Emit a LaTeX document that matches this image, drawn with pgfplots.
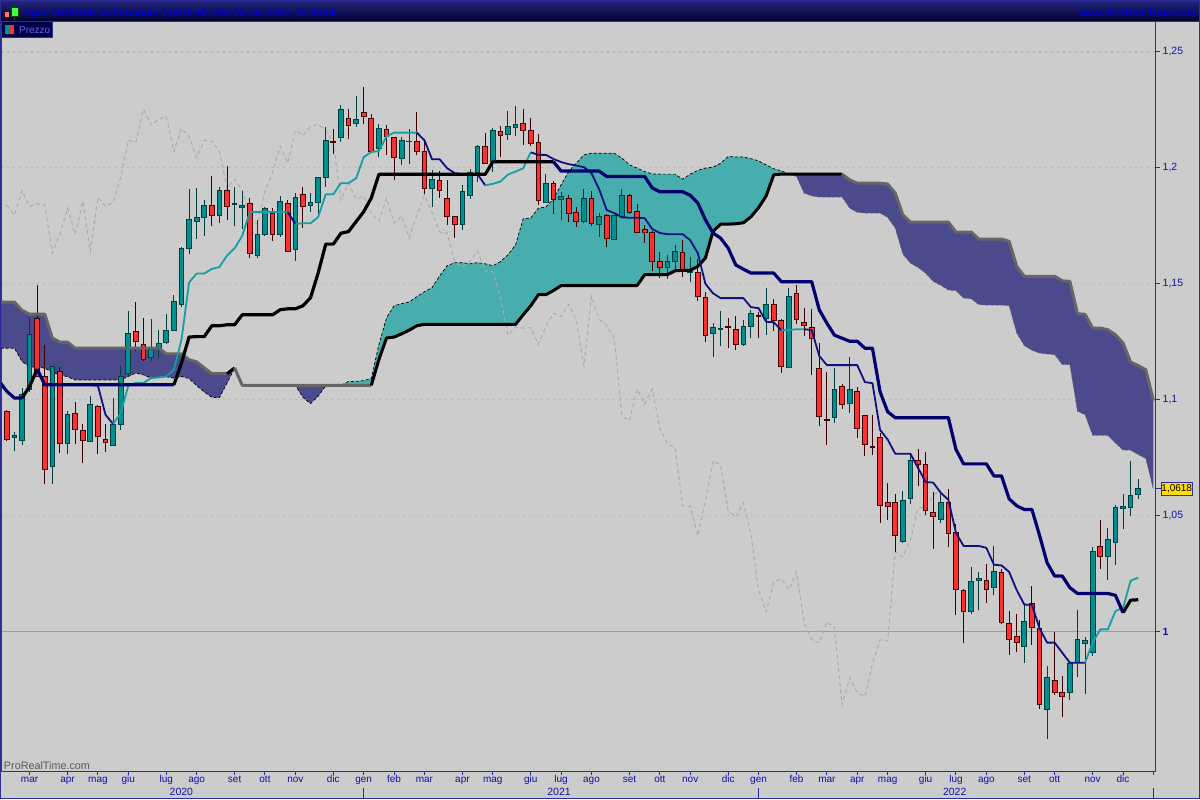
\documentclass[border=0pt]{standalone}
\usepackage{fontspec}
\setmainfont{Liberation Sans}
\usepackage{pgfplots}
\pgfplotsset{compat=1.18}
\usepackage{pgfplotstable}
\usepgfplotslibrary{statistics,fillbetween}
\definecolor{bgc}{HTML}{CCCCCC}
\definecolor{fr}{HTML}{2E2E9A}
\definecolor{tickc}{HTML}{1010A8}
\definecolor{tealc}{HTML}{009090}
\definecolor{tealdk}{HTML}{003C3C}
\definecolor{redc}{HTML}{FF3030}
\definecolor{reddk}{HTML}{3C0000}
\definecolor{tenk}{HTML}{12A0A0}
\definecolor{navyk}{HTML}{00006E}
\definecolor{navyt}{HTML}{101080}
\definecolor{cloudp}{HTML}{4B4A8C}
\definecolor{cloudt}{HTML}{48ADAD}
\definecolor{grayb}{HTML}{666666}
\definecolor{chik}{HTML}{ABABAB}
\definecolor{gridc}{HTML}{B6B6B6}
\definecolor{oneline}{HTML}{9C9C9C}
\definecolor{titlec}{HTML}{0000D8}
\definecolor{legc}{HTML}{6868E0}
\pgfplotstableread[row sep=\\]{i v\\
-0.83 1.1072\\0 1.1036\\1 1.1007\\2 1.1007\\3 1.1057\\4 1.1132\\5 1.1064\\22 1.1064\\23 1.1158\\24 1.1270\\25 1.1272\\26 1.1272\\27 1.1319\\28 1.1319\\29 1.1323\\30 1.1323\\31 1.1366\\35 1.1366\\36 1.1388\\37 1.1392\\38 1.1392\\39 1.1405\\40 1.1440\\41 1.1546\\42 1.1671\\43 1.1671\\44 1.1718\\45 1.1725\\46 1.1768\\47 1.1811\\48 1.1870\\49 1.1972\\63 1.1972\\64 1.2026\\72 1.2026\\73 1.1986\\78 1.1986\\79 1.1963\\84 1.1963\\85 1.1913\\86 1.1897\\89 1.1897\\90 1.1882\\91 1.1848\\92 1.1776\\93 1.1719\\94 1.1697\\95 1.1654\\96 1.1581\\97 1.1563\\98 1.1546\\101 1.1546\\102 1.1509\\106 1.1509\\107 1.1387\\108 1.1330\\109 1.1278\\110 1.1265\\111 1.1252\\112 1.1252\\113 1.1222\\114 1.1222\\115 1.1034\\116 1.0948\\117 1.0922\\124 1.0922\\125 1.0785\\126 1.0723\\129 1.0723\\130 1.0671\\131 1.0671\\132 1.0572\\133 1.0542\\134 1.0526\\135 1.0526\\136 1.0415\\137 1.0296\\138 1.0239\\139 1.0239\\140 1.0189\\141 1.0164\\145 1.0164\\146 1.0156\\147 1.0081\\148 1.0135\\149 1.0137\\
}\tabK
\pgfplotstableread[row sep=\\]{i v\\
11 1.1064\\12 1.1060\\13 1.0935\\14 1.0895\\15 1.0942\\16 1.1060\\17 1.1072\\18 1.1072\\19 1.1093\\20 1.1096\\21 1.1100\\22 1.1129\\23 1.1258\\24 1.1505\\25 1.1544\\26 1.1544\\27 1.1564\\28 1.1572\\29 1.1622\\30 1.1653\\31 1.1707\\32 1.1809\\37 1.1809\\38 1.1758\\39 1.1761\\40 1.1761\\41 1.1788\\42 1.1886\\43 1.1886\\44 1.1934\\45 1.1934\\46 1.1955\\47 1.2046\\48 1.2068\\49 1.2073\\50 1.2135\\51 1.2152\\54 1.2152\\55 1.2119\\56 1.2037\\57 1.2037\\58 1.1998\\59 1.1977\\60 1.1972\\62 1.1972\\63 1.1925\\64 1.1931\\65 1.1941\\66 1.1971\\67 1.1984\\68 1.1998\\69 1.2067\\70 1.2056\\71 1.2056\\72 1.2038\\73 1.2025\\74 1.2016\\75 1.2010\\76 1.2003\\77 1.1977\\78 1.1908\\79 1.1818\\80 1.1805\\81 1.1786\\82 1.1785\\83 1.1785\\84 1.1783\\85 1.1736\\86 1.1719\\87 1.1714\\89 1.1714\\90 1.1688\\91 1.1632\\92 1.1500\\93 1.1459\\94 1.1438\\97 1.1438\\98 1.1399\\99 1.1395\\100 1.1336\\101 1.1334\\102 1.1300\\103 1.1300\\104 1.1304\\105 1.1304\\106 1.1300\\107 1.1188\\108 1.1149\\112 1.1149\\113 1.1076\\114 1.1071\\115 1.0870\\116 1.0828\\117 1.0767\\119 1.0767\\120 1.0706\\121 1.0645\\122 1.0642\\123 1.0598\\124 1.0568\\125 1.0425\\126 1.0369\\128 1.0369\\129 1.0361\\130 1.0288\\131 1.0285\\132 1.0257\\133 1.0178\\134 1.0116\\135 1.0115\\136 1.0014\\137 0.9952\\138 0.9952\\139 0.9908\\140 0.9865\\142 0.9865\\143 0.9952\\144 1.0009\\145 1.0009\\146 1.0088\\147 1.0102\\148 1.0219\\149 1.0232\\
}\tabT
\pgfplotstableread[row sep=\\]{i v\\
-0.83 1.1421\\1 1.1421\\2 1.1385\\3 1.1369\\5 1.1369\\6 1.1266\\7 1.1248\\8 1.1248\\9 1.1222\\20 1.1222\\21 1.1198\\23 1.1198\\24 1.1172\\25 1.1163\\26 1.1137\\27 1.1112\\29 1.1112\\30 1.1137\\31 1.1062\\38 1.1062\\42 1.1062\\43 1.1062\\48 1.1062\\49 1.1173\\50 1.1266\\51 1.1270\\52 1.1284\\53 1.1300\\54 1.1319\\55 1.1325\\67 1.1325\\68 1.1366\\69 1.1405\\70 1.1453\\71 1.1453\\72 1.1471\\73 1.1492\\83 1.1492\\84 1.1539\\87 1.1539\\88 1.1556\\89 1.1558\\90 1.1558\\91 1.1575\\92 1.1611\\93 1.1726\\94 1.1757\\95 1.1757\\96 1.1759\\97 1.1763\\98 1.1789\\99 1.1828\\100 1.1879\\101 1.1970\\102 1.1973\\103 1.1973\\110 1.1973\\111 1.1948\\112 1.1934\\115 1.1934\\116 1.1930\\117 1.1891\\118 1.1797\\119 1.1766\\124 1.1766\\125 1.1723\\127 1.1723\\128 1.1693\\131 1.1693\\132 1.1683\\133 1.1575\\134 1.1532\\138 1.1532\\139 1.1513\\140 1.1510\\141 1.1371\\142 1.1368\\143 1.1309\\144 1.1309\\145 1.1302\\146 1.1280\\147 1.1244\\148 1.1162\\149 1.1147\\150 1.1129\\151 1.0996\\
}\tabB
\pgfplotstableread[row sep=\\]{i v\\
-0.83 1.1222\\1 1.1222\\2 1.1165\\3 1.1141\\4 1.1141\\5 1.1136\\6 1.1118\\7 1.1107\\8 1.1099\\9 1.1085\\15 1.1085\\16 1.1100\\17 1.1115\\18 1.1107\\19 1.1093\\20 1.1096\\21 1.1099\\22 1.1093\\23 1.1100\\24 1.1091\\25 1.1061\\26 1.1033\\27 1.1010\\28 1.1009\\29 1.1072\\30 1.1137\\31 1.1062\\38 1.1062\\39 1.1010\\40 1.0983\\41 1.1015\\42 1.1060\\43 1.1062\\44 1.1062\\45 1.1078\\46 1.1079\\47 1.1082\\48 1.1091\\49 1.1237\\50 1.1353\\51 1.1405\\52 1.1414\\53 1.1422\\54 1.1444\\55 1.1466\\56 1.1483\\57 1.1534\\58 1.1578\\59 1.1591\\60 1.1591\\61 1.1586\\62 1.1591\\63 1.1586\\64 1.1578\\65 1.1595\\66 1.1625\\67 1.1668\\68 1.1780\\69 1.1784\\70 1.1826\\71 1.1831\\72 1.1867\\73 1.1927\\74 1.1984\\75 1.2020\\76 1.2056\\77 1.2063\\80 1.2063\\81 1.2042\\82 1.2013\\83 1.1999\\84 1.1984\\85 1.1974\\86 1.1973\\88 1.1973\\89 1.1951\\90 1.1973\\91 1.1989\\92 1.1999\\93 1.2003\\94 1.2020\\95 1.2049\\96 1.2047\\97 1.2047\\98 1.2039\\99 1.2030\\100 1.2013\\101 1.1996\\102 1.1987\\103 1.1973\\104 1.1963\\105 1.1891\\106 1.1879\\107 1.1874\\110 1.1874\\111 1.1826\\112 1.1808\\113 1.1805\\115 1.1805\\116 1.1786\\117 1.1740\\118 1.1628\\119 1.1589\\120 1.1570\\121 1.1546\\122 1.1510\\123 1.1493\\124 1.1473\\125 1.1470\\126 1.1438\\127 1.1435\\128 1.1410\\129 1.1408\\131 1.1408\\132 1.1405\\133 1.1287\\134 1.1233\\135 1.1213\\136 1.1201\\137 1.1197\\138 1.1194\\139 1.1151\\140 1.1151\\141 1.0950\\142 1.0935\\143 1.0846\\145 1.0846\\146 1.0813\\147 1.0782\\148 1.0782\\149 1.0763\\150 1.0746\\151 1.0612\\
}\tabA
\pgfplotstableread[row sep=\\]{i v\\
0 1.1839\\1 1.1796\\2 1.1903\\3 1.1834\\4 1.1845\\5 1.1839\\6 1.1632\\7 1.1714\\8 1.1826\\9 1.1712\\10 1.1856\\11 1.1640\\12 1.1873\\13 1.1834\\14 1.1852\\15 1.1959\\16 1.2119\\17 1.2110\\18 1.2253\\19 1.2184\\20 1.2209\\21 1.2222\\22 1.2070\\23 1.2171\\24 1.2135\\25 1.2044\\26 1.2119\\27 1.2115\\28 1.2072\\29 1.1912\\30 1.1951\\31 1.1903\\32 1.1791\\33 1.1757\\34 1.1899\\35 1.1981\\36 1.2093\\37 1.2020\\38 1.2162\\39 1.2140\\40 1.2179\\41 1.2188\\42 1.2162\\43 1.2106\\44 1.1861\\45 1.1934\\46 1.1865\\47 1.1878\\48 1.1805\\49 1.1770\\50 1.1869\\51 1.1762\\52 1.1792\\53 1.1697\\54 1.1796\\55 1.1882\\56 1.1808\\57 1.1723\\58 1.1719\\59 1.1594\\60 1.1572\\61 1.1598\\62 1.1641\\63 1.1556\\64 1.1553\\65 1.1443\\66 1.1277\\67 1.1313\\68 1.1308\\69 1.1311\\70 1.1238\\71 1.1317\\72 1.1373\\73 1.1359\\74 1.1412\\75 1.1343\\76 1.1145\\77 1.1446\\78 1.1347\\79 1.1321\\80 1.1265\\81 1.0929\\82 1.0910\\83 1.1046\\84 1.0981\\85 1.1046\\86 1.0877\\87 1.0808\\88 1.0794\\89 1.0542\\90 1.0540\\91 1.0413\\92 1.0563\\93 1.0736\\94 1.0719\\95 1.0520\\96 1.0494\\97 1.0555\\98 1.0421\\99 1.0180\\100 1.0085\\101 1.0214\\102 1.0227\\103 1.0180\\104 1.0257\\105 1.0038\\106 0.9964\\107 0.9952\\108 1.0042\\109 1.0016\\110 0.9684\\111 0.9801\\112 0.9736\\113 0.9719\\114 0.9861\\115 0.9964\\116 0.9960\\117 1.0344\\118 1.0322\\119 1.0396\\120 1.0533\\121 1.0538\\122 1.0585\\123 1.0615\\
}\tabC
% candle: index, low, body bottom, body top, high
\newcommand\T[5]{\addplot[draw=tealdk,fill=tealc,line width=1pt,boxplot prepared={draw position=#1,lower whisker=#2,lower quartile=#3,median=#3,upper quartile=#4,upper whisker=#5}] coordinates {};}
\newcommand\R[5]{\addplot[draw=reddk,fill=redc,line width=1pt,boxplot prepared={draw position=#1,lower whisker=#2,lower quartile=#3,median=#3,upper quartile=#4,upper whisker=#5}] coordinates {};}
\begin{document}
\begin{tikzpicture}[x=1pt,y=1pt]
\path (0,0) rectangle (1200,800);
\begin{axis}[
 at={(1pt,28pt)},anchor=south west,scale only axis,width=1155pt,height=750pt,
 xmin=-0.70,xmax=151.28,ymin=0.93966,ymax=1.26293,
 axis line style={draw=fr,line width=1pt},
 tick align=outside,xtick pos=bottom,ytick pos=right,
 major tick length=4pt,
 tick style={draw=fr,line width=1pt},
 xtick={3,8,12,16,21,25,30,34,38,43,47,51,55,60,64,69,73,77,82,86,90,95,99,104,108,112,116,121,125,129,134,138,143,147,151},
 xticklabels={mar,apr,mag,giu,lug,ago,set,ott,nov,dic,gen,feb,mar,apr,mag,giu,lug,ago,set,ott,nov,dic,gen,feb,mar,apr,mag,giu,lug,ago,set,ott,nov,dic,{}},
 xticklabel style={font=\fontsize{10}{12}\selectfont,text=tickc,inner sep=0pt,anchor=base,yshift=-7.5pt},
 ytick={1.05,1.1,1.15,1.2,1.25},
 yticklabels={{1,05},{1,1},{1,15},{1,2},{1,25}},
 yticklabel style={font=\fontsize{10.5}{12}\selectfont,text=tickc,inner sep=0pt,xshift=3pt},
 extra y ticks={1},extra y tick labels={\textbf{1}},
 extra y tick style={grid=major,major grid style={solid,draw=oneline,line width=1pt}},
 ymajorgrids,
 major grid style={draw=gridc,line width=1.2pt,dash pattern=on 2pt off 4pt},
 boxplot/whisker extend=0,boxplot/box extend=0.62,boxplot/draw direction=y,
 boxplot/every median/.style={draw=none},
]
% clouds
\addplot[name path=u1,draw=none,restrict x to domain=-1:30] table[x=i,y=v]{\tabB};
\addplot[name path=l1,draw=none,restrict x to domain=-1:30] table[x=i,y=v]{\tabA};
\addplot[fill=cloudp,draw=none] fill between[of=u1 and l1];
\addplot[name path=u2,draw=none,restrict x to domain=38:43] table[x=i,y=v]{\tabB};
\addplot[name path=l2,draw=none,restrict x to domain=38:43] table[x=i,y=v]{\tabA};
\addplot[fill=cloudp,draw=none] fill between[of=u2 and l2];
\addplot[name path=u3,draw=none,restrict x to domain=43:103] table[x=i,y=v]{\tabA};
\addplot[name path=l3,draw=none,restrict x to domain=43:103] table[x=i,y=v]{\tabB};
\addplot[fill=cloudt,draw=none] fill between[of=u3 and l3];
\addplot[name path=u4,draw=none,restrict x to domain=103:151] table[x=i,y=v]{\tabB};
\addplot[name path=l4,draw=none,restrict x to domain=103:151] table[x=i,y=v]{\tabA};
\addplot[fill=cloudp,draw=none] fill between[of=u4 and l4];
% span A edge
\addplot[black,line width=0.7pt,dash pattern=on 3pt off 2pt,restrict x to domain=-1:103] table[x=i,y=v]{\tabA};
\addplot[black!50!bgc,line width=0.5pt,dash pattern=on 3pt off 2pt,restrict x to domain=103:151] table[x=i,y=v]{\tabA};
% lagging line
\addplot[chik,line width=1pt,dash pattern=on 4pt off 3pt] table[x=i,y=v]{\tabC};
% candles
\R{0}{1.0823}{1.0829}{1.0947}{1.0957}
\T{1}{1.0777}{1.0837}{1.0847}{1.0860}
\T{2}{1.0803}{1.0824}{1.1023}{1.1050}
\T{3}{1.1031}{1.1043}{1.1283}{1.1355}
\R{4}{1.1097}{1.1100}{1.1352}{1.1495}
\R{5}{1.0635}{1.0697}{1.1100}{1.1237}
\T{6}{1.0635}{1.0710}{1.1141}{1.1143}
\R{7}{1.0768}{1.0809}{1.1123}{1.1141}
\T{8}{1.0764}{1.0813}{1.0934}{1.0952}
\R{9}{1.0809}{1.0873}{1.0942}{1.0991}
\R{10}{1.0725}{1.0822}{1.0869}{1.0895}
\T{11}{1.0818}{1.0820}{1.0981}{1.1016}
\R{12}{1.0764}{1.0839}{1.0972}{1.0977}
\R{13}{1.0773}{1.0816}{1.0830}{1.0896}
\T{14}{1.0799}{1.0803}{1.0895}{1.1008}
\T{15}{1.0868}{1.0891}{1.1100}{1.1145}
\T{16}{1.1096}{1.1115}{1.1287}{1.1382}
\R{17}{1.1208}{1.1253}{1.1296}{1.1422}
\R{18}{1.1165}{1.1175}{1.1240}{1.1352}
\T{19}{1.1165}{1.1184}{1.1218}{1.1347}
\T{20}{1.1181}{1.1218}{1.1244}{1.1300}
\T{21}{1.1240}{1.1248}{1.1300}{1.1369}
\T{22}{1.1298}{1.1300}{1.1425}{1.1452}
\T{23}{1.1399}{1.1412}{1.1653}{1.1658}
\T{24}{1.1630}{1.1653}{1.1778}{1.1909}
\T{25}{1.1692}{1.1768}{1.1787}{1.1913}
\T{26}{1.1708}{1.1787}{1.1839}{1.1862}
\R{27}{1.1751}{1.1796}{1.1839}{1.1965}
\T{28}{1.1760}{1.1796}{1.1903}{1.1916}
\R{29}{1.1777}{1.1834}{1.1903}{1.2008}
\T{30}{1.1751}{1.1842}{1.1845}{1.1918}
\T{31}{1.1735}{1.1829}{1.1839}{1.1901}
\R{32}{1.1609}{1.1632}{1.1847}{1.1870}
\T{33}{1.1613}{1.1622}{1.1714}{1.1773}
\T{34}{1.1704}{1.1714}{1.1826}{1.1830}
\R{35}{1.1686}{1.1712}{1.1804}{1.1826}
\T{36}{1.1701}{1.1714}{1.1856}{1.1878}
\R{37}{1.1636}{1.1640}{1.1847}{1.1860}
\T{38}{1.1600}{1.1649}{1.1873}{1.1890}
\R{39}{1.1742}{1.1834}{1.1886}{1.1918}
\T{40}{1.1810}{1.1839}{1.1852}{1.1890}
\T{41}{1.1797}{1.1852}{1.1959}{1.1962}
\T{42}{1.1918}{1.1959}{1.2119}{1.2175}
\R{43}{1.2059}{1.2110}{1.2115}{1.2166}
\T{44}{1.2113}{1.2132}{1.2253}{1.2270}
\R{45}{1.2125}{1.2184}{1.2214}{1.2253}
\T{46}{1.2175}{1.2192}{1.2209}{1.2310}
\R{47}{1.2189}{1.2222}{1.2240}{1.2347}
\R{48}{1.2068}{1.2070}{1.2214}{1.2232}
\T{49}{1.2047}{1.2084}{1.2171}{1.2189}
\R{50}{1.2057}{1.2135}{1.2166}{1.2184}
\R{51}{1.1949}{1.2044}{1.2132}{1.2135}
\T{52}{1.2013}{1.2040}{1.2119}{1.2132}
\T{53}{1.2017}{1.2113}{1.2115}{1.2166}
\R{54}{1.2057}{1.2072}{1.2115}{1.2241}
\R{55}{1.1889}{1.1912}{1.2072}{1.2123}
\T{56}{1.1833}{1.1912}{1.1951}{1.1991}
\R{57}{1.1872}{1.1903}{1.1947}{1.1985}
\R{58}{1.1754}{1.1791}{1.1869}{1.1948}
\R{59}{1.1699}{1.1757}{1.1791}{1.1791}
\T{60}{1.1734}{1.1757}{1.1899}{1.1925}
\T{61}{1.1866}{1.1882}{1.1981}{1.1994}
\T{62}{1.1938}{1.1981}{1.2093}{1.2097}
\R{63}{1.2015}{1.2020}{1.2093}{1.2151}
\T{64}{1.1984}{1.2027}{1.2162}{1.2171}
\R{65}{1.2047}{1.2140}{1.2158}{1.2179}
\T{66}{1.2122}{1.2145}{1.2179}{1.2244}
\T{67}{1.2136}{1.2175}{1.2188}{1.2265}
\R{68}{1.2099}{1.2162}{1.2192}{1.2254}
\R{69}{1.2093}{1.2106}{1.2162}{1.2215}
\R{70}{1.1841}{1.1861}{1.2111}{1.2147}
\T{71}{1.1848}{1.1852}{1.1934}{1.1974}
\R{72}{1.1802}{1.1865}{1.1934}{1.1943}
\T{73}{1.1776}{1.1865}{1.1878}{1.1895}
\R{74}{1.1767}{1.1805}{1.1869}{1.1882}
\R{75}{1.1746}{1.1770}{1.1809}{1.1831}
\T{76}{1.1760}{1.1770}{1.1869}{1.1908}
\R{77}{1.1750}{1.1762}{1.1869}{1.1900}
\T{78}{1.1703}{1.1757}{1.1792}{1.1805}
\R{79}{1.1660}{1.1697}{1.1796}{1.1800}
\T{80}{1.1693}{1.1693}{1.1796}{1.1796}
\T{81}{1.1783}{1.1792}{1.1882}{1.1908}
\R{82}{1.1799}{1.1808}{1.1882}{1.1887}
\R{83}{1.1721}{1.1723}{1.1813}{1.1844}
\R{84}{1.1677}{1.1719}{1.1732}{1.1753}
\R{85}{1.1556}{1.1594}{1.1723}{1.1727}
\R{86}{1.1526}{1.1572}{1.1594}{1.1638}
\T{87}{1.1522}{1.1572}{1.1598}{1.1624}
\T{88}{1.1565}{1.1594}{1.1641}{1.1667}
\R{89}{1.1530}{1.1556}{1.1637}{1.1688}
\T{90}{1.1509}{1.1550}{1.1553}{1.1617}
\R{91}{1.1427}{1.1443}{1.1550}{1.1607}
\R{92}{1.1247}{1.1277}{1.1442}{1.1464}
\T{93}{1.1182}{1.1287}{1.1313}{1.1330}
\T{94}{1.1232}{1.1304}{1.1308}{1.1383}
\R{95}{1.1224}{1.1311}{1.1317}{1.1352}
\R{96}{1.1215}{1.1238}{1.1304}{1.1360}
\T{97}{1.1232}{1.1238}{1.1317}{1.1343}
\T{98}{1.1267}{1.1317}{1.1373}{1.1386}
\R{99}{1.1267}{1.1359}{1.1364}{1.1377}
\T{100}{1.1280}{1.1352}{1.1412}{1.1481}
\R{101}{1.1297}{1.1343}{1.1412}{1.1433}
\R{102}{1.1116}{1.1145}{1.1343}{1.1347}
\T{103}{1.1135}{1.1140}{1.1446}{1.1481}
\R{104}{1.1327}{1.1347}{1.1459}{1.1494}
\R{105}{1.1275}{1.1321}{1.1334}{1.1395}
\R{106}{1.1106}{1.1265}{1.1313}{1.1390}
\R{107}{1.0885}{1.0929}{1.1136}{1.1244}
\R{108}{1.0803}{1.0910}{1.0916}{1.1119}
\T{109}{1.0898}{1.0921}{1.1046}{1.1136}
\R{110}{1.0958}{1.0981}{1.1058}{1.1067}
\T{111}{1.0941}{1.0985}{1.1046}{1.1183}
\R{112}{1.0833}{1.0877}{1.1037}{1.1054}
\R{113}{1.0755}{1.0808}{1.0933}{1.0933}
\R{114}{1.0761}{1.0794}{1.0800}{1.0933}
\R{115}{1.0469}{1.0542}{1.0835}{1.0857}
\R{116}{1.0480}{1.0540}{1.0555}{1.0641}
\R{117}{1.0344}{1.0413}{1.0555}{1.0594}
\T{118}{1.0382}{1.0390}{1.0563}{1.0607}
\T{119}{1.0549}{1.0572}{1.0736}{1.0770}
\R{120}{1.0627}{1.0719}{1.0736}{1.0789}
\R{121}{1.0502}{1.0520}{1.0719}{1.0775}
\R{122}{1.0355}{1.0494}{1.0512}{1.0602}
\T{123}{1.0469}{1.0482}{1.0555}{1.0607}
\R{124}{1.0364}{1.0421}{1.0555}{1.0615}
\R{125}{1.0071}{1.0180}{1.0425}{1.0464}
\R{126}{0.9951}{1.0085}{1.0175}{1.0184}
\T{127}{1.0076}{1.0085}{1.0214}{1.0279}
\T{128}{1.0092}{1.0219}{1.0227}{1.0257}
\R{129}{1.0122}{1.0180}{1.0219}{1.0292}
\T{130}{1.0157}{1.0188}{1.0257}{1.0369}
\R{131}{1.0033}{1.0038}{1.0253}{1.0270}
\R{132}{0.9900}{0.9964}{1.0033}{1.0089}
\R{133}{0.9913}{0.9952}{0.9977}{1.0077}
\T{134}{0.9865}{0.9934}{1.0042}{1.0115}
\R{135}{0.9943}{1.0016}{1.0120}{1.0197}
\R{136}{0.9667}{0.9684}{1.0012}{1.0051}
\T{137}{0.9538}{0.9663}{0.9801}{0.9852}
\R{138}{0.9727}{0.9736}{0.9788}{0.9999}
\R{139}{0.9633}{0.9719}{0.9736}{0.9809}
\T{140}{0.9706}{0.9736}{0.9861}{0.9865}
\T{141}{0.9805}{0.9865}{0.9964}{1.0094}
\T{142}{0.9732}{0.9947}{0.9960}{0.9977}
\T{143}{0.9896}{0.9908}{1.0344}{1.0365}
\R{144}{1.0271}{1.0322}{1.0365}{1.0482}
\T{145}{1.0223}{1.0322}{1.0396}{1.0447}
\T{146}{1.0288}{1.0383}{1.0533}{1.0546}
\T{147}{1.0443}{1.0529}{1.0538}{1.0594}
\T{148}{1.0499}{1.0533}{1.0585}{1.0737}
\T{149}{1.0571}{1.0589}{1.0615}{1.0658}
% span B edge
\addplot[grayb,line width=3pt,line join=round,restrict x to domain=-1:29] table[x=i,y=v]{\tabB};
\addplot[black,line width=3pt,line join=round,restrict x to domain=29:30] table[x=i,y=v]{\tabB};
\addplot[grayb,line width=3pt,line join=round,restrict x to domain=30:48] table[x=i,y=v]{\tabB};
\addplot[black,line width=3pt,line join=round,restrict x to domain=48:110] table[x=i,y=v]{\tabB};
\addplot[grayb,line width=3pt,line join=round,restrict x to domain=110:151] table[x=i,y=v]{\tabB};
% conversion line
\addplot[navyt,line width=1.8pt,line join=round,restrict x to domain=11:14] table[x=i,y=v]{\tabT};
\addplot[tenk,line width=1.8pt,line join=round,restrict x to domain=14:37] table[x=i,y=v]{\tabT};
\addplot[navyt,line width=1.8pt,line join=round,restrict x to domain=37:38] table[x=i,y=v]{\tabT};
\addplot[tenk,line width=1.8pt,line join=round,restrict x to domain=38:54] table[x=i,y=v]{\tabT};
\addplot[navyt,line width=1.8pt,line join=round,restrict x to domain=54:63] table[x=i,y=v]{\tabT};
\addplot[tenk,line width=1.8pt,line join=round,restrict x to domain=63:69] table[x=i,y=v]{\tabT};
\addplot[navyt,line width=1.8pt,line join=round,restrict x to domain=69:102] table[x=i,y=v]{\tabT};
\addplot[tenk,line width=1.8pt,line join=round,restrict x to domain=102:105] table[x=i,y=v]{\tabT};
\addplot[navyt,line width=1.8pt,line join=round,restrict x to domain=105:142] table[x=i,y=v]{\tabT};
\addplot[tenk,line width=1.8pt,line join=round,restrict x to domain=142:149] table[x=i,y=v]{\tabT};
% base line
\addplot[navyk,line width=3.2pt,line join=round,restrict x to domain=-1:2] table[x=i,y=v]{\tabK};
\addplot[black,line width=3.2pt,line join=round,restrict x to domain=2:4] table[x=i,y=v]{\tabK};
\addplot[navyk,line width=3.2pt,line join=round,restrict x to domain=4:22] table[x=i,y=v]{\tabK};
\addplot[black,line width=3.2pt,line join=round,restrict x to domain=22:72] table[x=i,y=v]{\tabK};
\addplot[navyk,line width=3.2pt,line join=round,restrict x to domain=72:147] table[x=i,y=v]{\tabK};
\addplot[black,line width=3.2pt,line join=round,restrict x to domain=147:149] table[x=i,y=v]{\tabK};
\end{axis}
% page background, underneath every layer of the axis
\begin{pgfonlayer}{axis background}
\fill[bgc] (0,0) rectangle (1200,800);
\end{pgfonlayer}
% header
\shade[top color=blue!40!black!85,bottom color=blue!18!black] (0,778) rectangle (1200,800);
\draw[fr,line width=1pt] (0,778) -- (1200,778);
\draw[fr,line width=1pt] (0.5,0.5) rectangle (1199.5,799.5);
\node[anchor=base west,inner sep=0pt,text=titlec,font=\fontsize{10.4}{14}\selectfont\bfseries] at (23.5,783.5) {Spot EUR/USD Settimanale 1,0618 +0,16\% 23 dic 2022, 22:59:59};
\node[anchor=base east,inner sep=0pt,text=titlec,font=\fontsize{10.6}{14}\selectfont\bfseries] at (1197,783.5) {www.ProRealTime.com};
% logo
\draw[reddk,line width=0.8pt] (6.3,780) -- (6.3,791);
\filldraw[draw=reddk,fill=red!55!white,line width=0.8pt] (3.5,782.7) rectangle (9.2,789);
\draw[black!70!green,line width=0.8pt] (14.3,780) -- (14.3,796);
\filldraw[draw=black!70!green,fill=green!75!white,line width=0.8pt] (11.3,783.3) rectangle (17.5,792.7);
% legend box
\filldraw[draw=fr,fill=blue!20!black!90!blue,line width=1pt] (1,762.5) rectangle (52.5,778);
\fill[tealc] (5,766) rectangle (10,775);
\fill[redc] (10,766) rectangle (14,775);
\node[anchor=base west,inner sep=0pt,text=legc,font=\fontsize{10}{12}\selectfont] at (18.5,766.5) {Prezzo};
% watermark
\node[anchor=base west,inner sep=0pt,text=black!65,font=\fontsize{10.8}{12}\selectfont] at (3.3,29.5) {ProRealTime.com};
% years
\foreach \xx/\yy in {181/2020,559/2021,955/2022}
 \node[anchor=base,inner sep=0pt,text=tickc,font=\fontsize{10.5}{12}\selectfont] at (\xx,3.5) {\yy};
\foreach \xx in {363.5,758.5,1153.5}
 \draw[fr,line width=1pt] (\xx,1) -- (\xx,11);
% last price
\filldraw[draw=fr,fill=yellow!80!orange,line width=1pt] (1162,304.5) rectangle (1192.5,317);
\draw[fr,line width=1pt] (1156,311) -- (1162,311);
\node[anchor=center,inner sep=0pt,text=black,font=\fontsize{10}{12}\selectfont] at (1177.2,310.7) {1,0618};
\end{tikzpicture}
\end{document}
